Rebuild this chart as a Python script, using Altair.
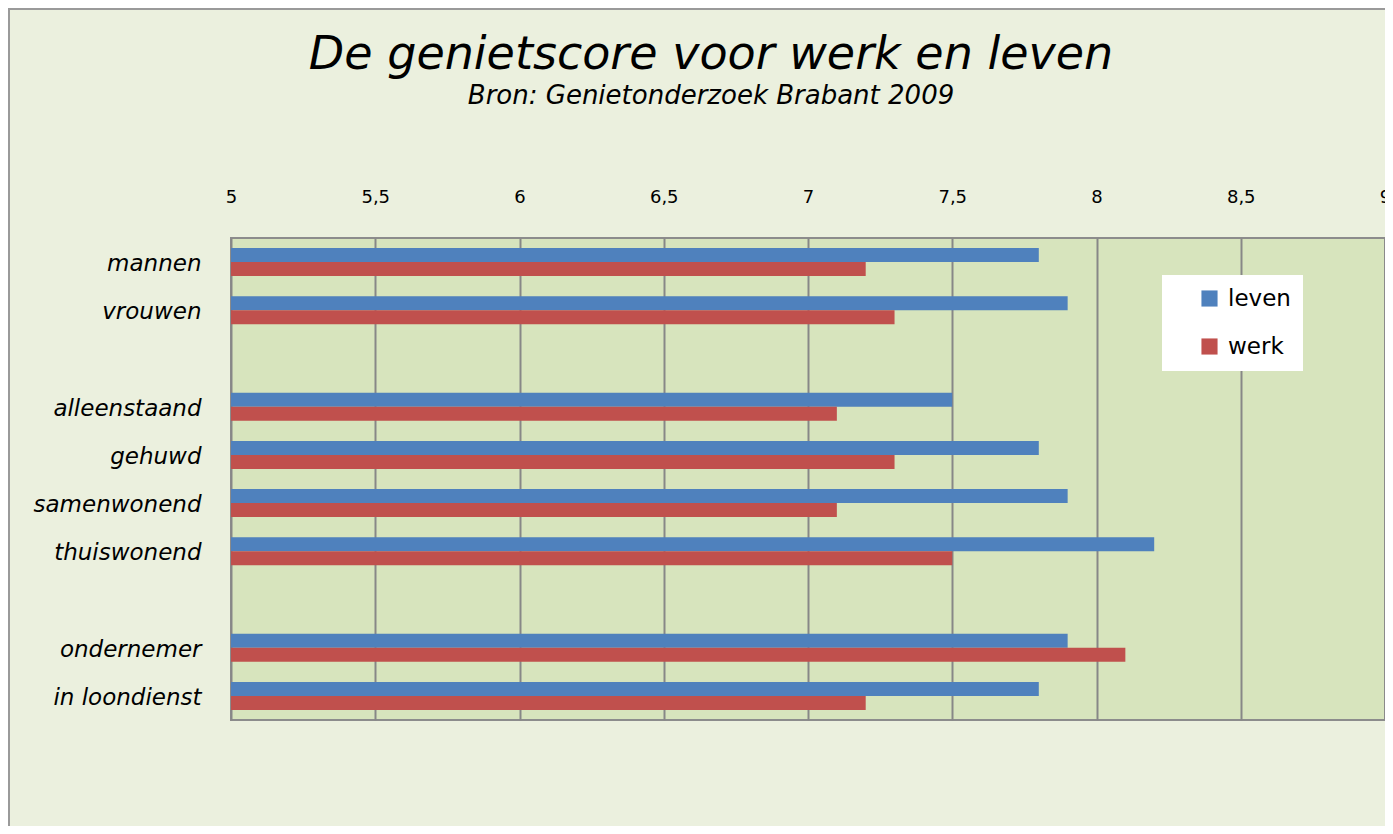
import altair as alt
import pandas as pd

categories = ["mannen", "vrouwen", " ", "alleenstaand", "gehuwd", "samenwonend",
              "thuiswonend", "  ", "ondernemer", "in loondienst"]
groups = ["mannen", "vrouwen", "alleenstaand", "gehuwd", "samenwonend",
          "thuiswonend", "ondernemer", "in loondienst"]
leven = [7.8, 7.9, 7.5, 7.8, 7.9, 8.2, 7.9, 7.8]
werk = [7.2, 7.3, 7.1, 7.3, 7.1, 7.5, 8.1, 7.2]
series = ["leven", "werk"]
colors = ["#4F81BD", "#C0504D"]
ticks = [5, 5.5, 6, 6.5, 7, 7.5, 8, 8.5, 9]

rows = []
for g, l, w in zip(groups, leven, werk):
    rows.append({"groep": g, "reeks": "leven", "score": l})
    rows.append({"groep": g, "reeks": "werk", "score": w})
df = pd.DataFrame(rows)

bars = alt.Chart(df).mark_bar(clip=True).encode(
    x=alt.X("score:Q",
            scale=alt.Scale(domain=[5, 9], zero=False, nice=False),
            axis=alt.Axis(orient="top", values=ticks, title=None,
                          labelExpr="replace(format(datum.value, '.1~f'), '.', ',')",
                          labelFlush=False, labelOverlap=False, labelBound=False,
                          domain=False, ticks=False, grid=True,
                          gridColor="#878787", gridWidth=2,
                          labelFont="DejaVu Sans", labelFontSize=18,
                          labelColor="#000000", labelPadding=32)),
    x2=alt.X2(datum=5),
    y=alt.Y("groep:N",
            scale=alt.Scale(domain=categories, paddingInner=0.42, paddingOuter=0.21),
            axis=alt.Axis(title=None, domain=False, ticks=False, grid=False,
                          labelFont="DejaVu Sans", labelFontStyle="italic",
                          labelFontSize=23, labelColor="#000000",
                          labelPadding=30, labelLimit=300, labelOffset=2)),
    yOffset=alt.YOffset("reeks:N", scale=alt.Scale(domain=series)),
    color=alt.Color("reeks:N",
                    scale=alt.Scale(domain=series, range=colors),
                    legend=alt.Legend(
                        title=None, orient="none", legendX=931, legendY=37,
                        fillColor="#FFFFFF", padding=12, symbolType="square",
                        symbolSize=260, symbolOffset=24, symbolStrokeWidth=0,
                        labelFont="DejaVu Sans", labelFontSize=23,
                        labelColor="#000000", labelOffset=7, rowPadding=24)),
)

frame = alt.Chart(alt.Data(values=[{}])).mark_rect(
    fill=None, stroke="#9A9A9A", strokeWidth=2
).encode(
    x=alt.value(-222), y=alt.value(-229),
    x2=alt.value(1200), y2=alt.value(700),
)

chart = alt.layer(frame, bars).properties(
    width=1154, height=482,
    autosize=alt.AutoSizeParams(type="none"),
    padding={"left": 223, "top": 230, "right": 0, "bottom": 106},
    background="#EBF0DE",
    title=alt.TitleParams(
        text="De genietscore voor werk en leven",
        subtitle="Bron: Genietonderzoek Brabant 2009",
        anchor="middle", frame="group", dx=-97, offset=-102,
        font="DejaVu Sans", fontStyle="italic", fontWeight="normal",
        fontSize=46, color="#000000",
        subtitleFont="DejaVu Sans", subtitleFontStyle="italic",
        subtitleFontSize=26, subtitleColor="#000000", subtitlePadding=4),
).configure_view(
    fill="#D7E4BD", stroke="#8C8C8C", strokeWidth=2
)

chart.save("out.html", embed_options={"renderer": "svg", "actions": False})
